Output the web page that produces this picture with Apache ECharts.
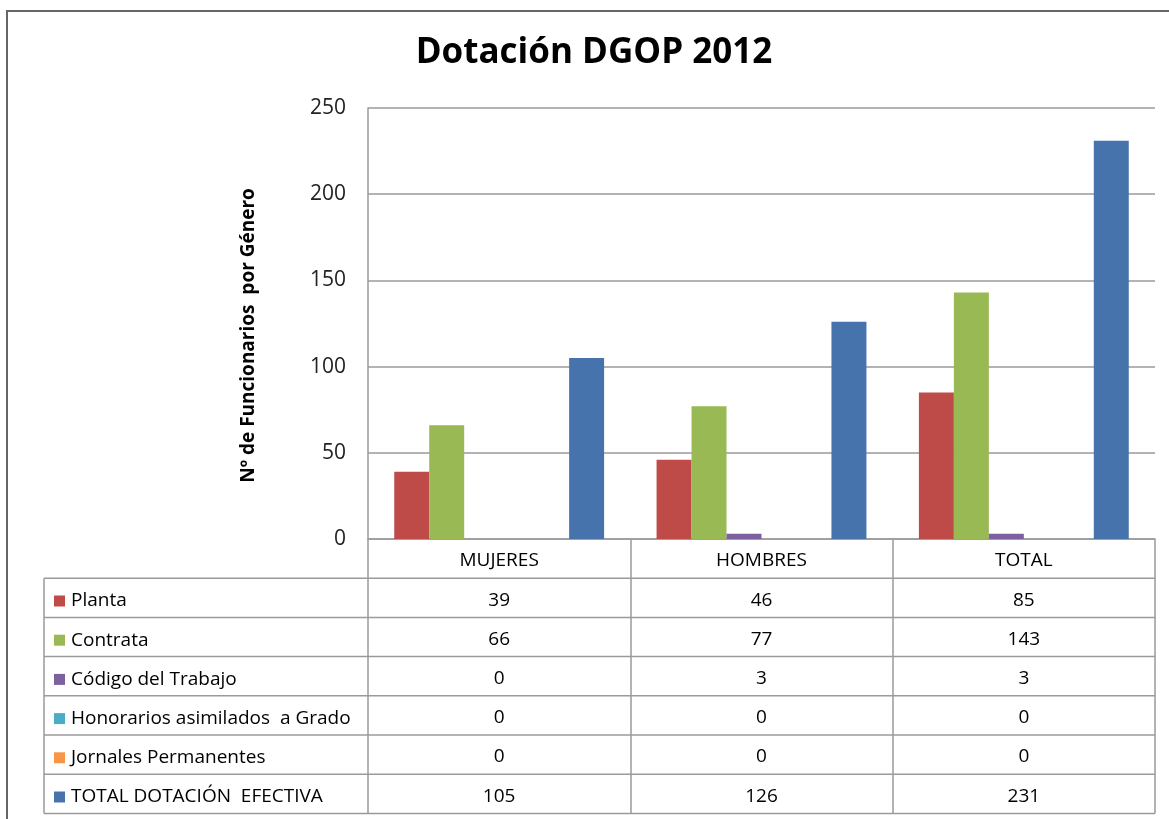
<!DOCTYPE html>
<html>
<head>
<meta charset="utf-8">
<script src="https://cdn.jsdelivr.net/npm/echarts@6/dist/echarts.min.js"></script>
<style>
html,body{margin:0;padding:0;background:#fff;overflow:hidden;}
#frame{position:absolute;left:6px;top:10px;width:1300px;height:1000px;border-left:2px solid #666;border-top:2px solid #666;}
#chart{position:absolute;left:0;top:0;width:1169px;height:819px;}
</style>
</head>
<body>
<div id="frame"></div>
<div id="chart"></div>
<script>
const categories = ['MUJERES', 'HOMBRES', 'TOTAL'];
const seriesNames = ['Planta', 'Contrata', 'Código del Trabajo', 'Honorarios asimilados  a Grado', 'Jornales Permanentes', 'TOTAL DOTACIÓN  EFECTIVA'];
const planta = [39, 46, 85];
const contrata = [66, 77, 143];
const codigoTrabajo = [0, 3, 3];
const honorarios = [0, 0, 0];
const jornales = [0, 0, 0];
const totalDotacion = [105, 126, 231];
const yTicks = [0, 50, 100, 150, 200, 250];
const colors = ['#BE4B48', '#98B954', '#7D60A0', '#4BACC6', '#F79646', '#4673AC'];

const seriesData = [planta, contrata, codigoTrabajo, honorarios, jornales, totalDotacion];
const ROW_H = 39.2;
const FONT = 'Open Sans';
const LINE = '#9a9a9a';
const TFS = 19;

const chart = echarts.init(document.getElementById('chart'));

const rowAxes = seriesData.map((vals, i) => ({
  type: 'category',
  gridIndex: 0,
  position: 'bottom',
  offset: ROW_H * (i + 1),
  data: categories,
  axisLine: {show: false},
  axisTick: {show: false},
  axisLabel: {
    interval: 0, margin: 22, verticalAlign: 'middle',
    fontFamily: FONT, fontSize: TFS, color: '#000',
    formatter: (v, idx) => String(vals[idx])
  }
}));

const option = {
  animation: false,
  backgroundColor: 'transparent',
  title: {
    text: 'Dotación DGOP 2012',
    left: 589, top: 31, textAlign: 'center',
    textStyle: {fontFamily: FONT, fontSize: 35, fontWeight: 'bold', color: '#000'}
  },
  legend: {
    orient: 'vertical', left: 49, top: 586,
    icon: 'rect', itemWidth: 11, itemHeight: 11, itemGap: ROW_H - 20,
    textStyle: {fontFamily: FONT, fontSize: TFS, color: '#000', lineHeight: 20, padding: [0, 0, 0, 1]},
    selectedMode: false,
    data: seriesNames
  },
  grid: {left: 368, right: 14, top: 108, bottom: 280, containLabel: false},
  xAxis: [{
    type: 'category',
    data: categories,
    axisLine: {show: true, lineStyle: {color: LINE, width: 1.5}},
    axisTick: {show: true, length: ROW_H * 7, alignWithLabel: false, interval: 0, lineStyle: {color: LINE, width: 1.5}},
    axisLabel: {interval: 0, margin: 22, verticalAlign: 'middle', fontFamily: FONT, fontSize: TFS, color: '#000'}
  }].concat(rowAxes),
  yAxis: {
    type: 'value', min: yTicks[0], max: yTicks[yTicks.length - 1], interval: yTicks[1] - yTicks[0],
    name: 'Nº de Funcionarios  por Género',
    nameLocation: 'middle', nameRotate: 90, nameGap: 110,
    nameTextStyle: {fontFamily: FONT, fontSize: 19, fontWeight: 'bold', color: '#000', padding: [0, 0, 0, -24]},
    axisLine: {show: true, lineStyle: {color: LINE, width: 1.5}},
    axisTick: {show: false},
    splitLine: {lineStyle: {color: LINE, width: 1.5}},
    axisLabel: {margin: 22, fontFamily: FONT, fontSize: 21, color: '#222'}
  },
  series: seriesData.map((d, i) => ({
    name: seriesNames[i],
    type: 'bar',
    xAxisIndex: 0,
    data: d,
    barGap: '0%',
    barCategoryGap: '20%',
    itemStyle: {color: colors[i]}
  }))
};
chart.setOption(option);

// table grid lines derived from the grid rectangle
const rect = chart.getModel().getComponent('grid', 0).coordinateSystem.getRect();
const tableLeft = 44;
const lines = [];
for (let k = 1; k <= seriesData.length + 1; k++) {
  const y = rect.y + rect.height + ROW_H * k;
  lines.push({type: 'line', silent: true, shape: {x1: tableLeft, y1: y, x2: rect.x + rect.width, y2: y}, style: {stroke: LINE, lineWidth: 1.5}});
}
lines.push({type: 'line', silent: true, shape: {x1: tableLeft, y1: rect.y + rect.height + ROW_H, x2: tableLeft, y2: rect.y + rect.height + ROW_H * (seriesData.length + 1)}, style: {stroke: LINE, lineWidth: 1.5}});
chart.setOption({graphic: lines});
</script>
</body>
</html>
